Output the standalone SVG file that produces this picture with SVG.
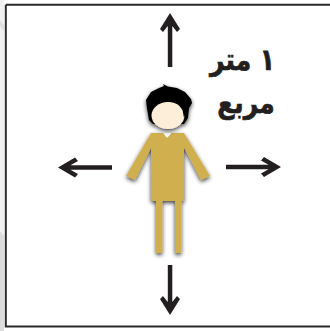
<svg xmlns="http://www.w3.org/2000/svg" width="330" height="331" viewBox="0 0 330 331">
<style>
.arrow{fill:#231f20}
.gold{fill:#d0af4f}
.lbl{font-family:"DejaVu Sans","Liberation Sans",sans-serif;font-weight:bold;font-size:25px;fill:#231f20;stroke:#231f20;stroke-width:.6;text-anchor:middle}
</style>
<defs>
<filter id="sh" x="-30%" y="-30%" width="160%" height="160%"><feGaussianBlur in="SourceAlpha" stdDeviation="2.2"/><feOffset dx="0" dy="2"/><feComponentTransfer><feFuncA type="linear" slope="0.75"/></feComponentTransfer><feMerge><feMergeNode/><feMergeNode in="SourceGraphic"/></feMerge></filter>
</defs>
<rect width="330" height="331" fill="#fff"/>
<g id="backdrop"><path d="M0 0 H4 V331 H0 Z" fill="#f1f1f1"/><path d="M0 231 L4 236 V331 H0 Z" fill="#dcdcdc"/><path d="M0 20 L4 25 V31 L0 26 Z" fill="#dedede"/></g>
<g id="frame"><path d="M5.800 4.800 H330 M5.800 4.800 V326.500 H330" fill="none" stroke="#2a2a2a" stroke-width="2"/></g>
<g id="connectors">
<path class="arrow" d="M170 13 L180 29 L177 32 L172.300 26 V67 H167.800 V26 L163 32 L160 29 Z"/>
<path class="arrow" d="M170 315 L180 299 L177 296 L172.300 302 V265 H167.800 V302 L163 296 L160 299 Z"/>
<path class="arrow" d="M58 167.500 L75 157.500 L78 161 L70.500 165.300 H112 V169.800 H70.500 L78 174 L75 177.500 Z"/>
<path class="arrow" d="M281 167 L264 157 L261 160.500 L268.500 164.800 H226 V169.300 H268.500 L261 173.500 L264 177 Z"/>
</g>
<g id="person">
<g filter="url(#sh)">
<path class="gold" d="M151 133 L156 138 L135 180 L126 176 Z"/>
<path class="gold" d="M184 133 L179 138 L201 180 L210 176 Z"/>
<rect class="gold" x="156" y="200" width="6.300" height="53"/>
<rect class="gold" x="175" y="200" width="6.300" height="53"/>
<rect class="gold" x="151" y="133" width="33" height="68"/>
</g>
<path d="M163 133 H171.500 L167 138 Z" fill="#fff"/>
<g filter="url(#sh)">
<path fill="#050505" d="M146 100 L151 92 L159 88 L164 86 L163 84 L168 86.500 L177 88 L185 92 L191 99 L192 103 L189 108 L188 118 L184 124 L153 124 L149 120 L147 108 Z"/>
<ellipse cx="168" cy="115.500" rx="16.500" ry="13.500" fill="#fdeed9"/>
<path fill="#050505" d="M176 100 L183 104 L186 112 L184 118 L182.500 110 L178 104 Z"/>
</g>
</g>
<g id="label">
<text class="lbl" transform="translate(242.500 70) scale(1 1.2)" direction="rtl">١ متر</text>
<text class="lbl" transform="translate(246 113) scale(1 1.2)" direction="rtl">مربع</text>
</g>
</svg>
